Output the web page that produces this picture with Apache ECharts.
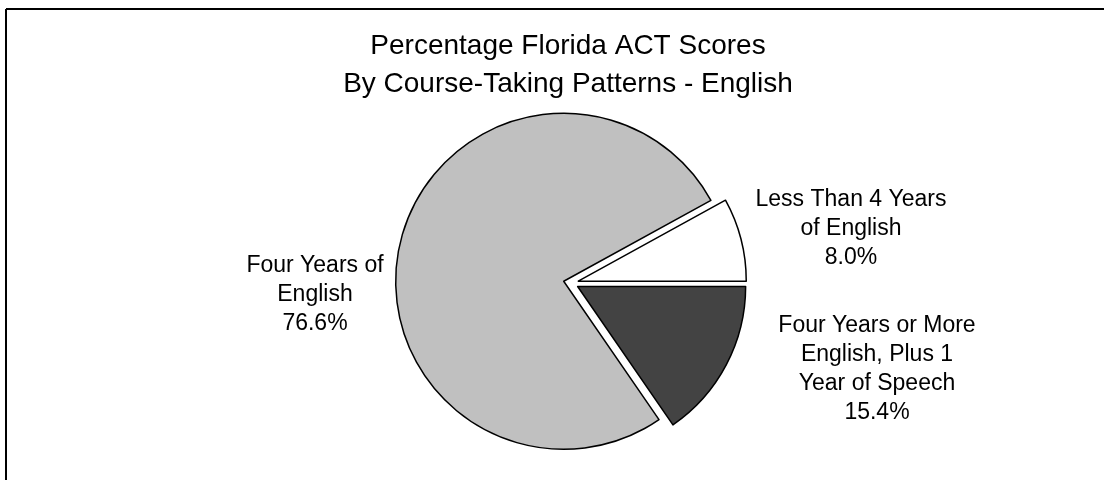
<!DOCTYPE html>
<html lang="en">
<head>
    <meta charset="UTF-8">
    <title>Percentage Florida ACT Scores - English</title>
    <script type="text/javascript" src="https://cdn.jsdelivr.net/npm/echarts@6/dist/echarts.min.js"></script>
    <style>
        body { margin: 0; background: #fff; }
    </style>
</head>
<body>
<div id="main" style="width: 1104px; height: 480px;"></div>
<script type="text/javascript">
    // 类别和数值
    var categories = ['Less Than 4 Years\nof English', 'Four Years of\nEnglish', 'Four Years or More\nEnglish, Plus 1\nYear of Speech'];
    var values = [8.0, 76.6, 15.4];
    var colors = ['#ffffff', '#c0c0c0', '#434343'];

    // where each data label sits (chart was hand laid out)
    var labelSpots = [[851, 229], [315, 295], [877, 369]];

    var font = "'Liberation Sans', Arial, sans-serif";

    var pieData = [];
    var labelTexts = [];
    for (var i = 0; i < categories.length; i++) {
        pieData.push({
            name: categories[i],
            value: values[i],
            selected: true,
            itemStyle: { color: colors[i] }
        });
        labelTexts.push({
            type: 'text',
            x: labelSpots[i][0],
            y: labelSpots[i][1],
            silent: true,
            style: {
                text: categories[i] + '\n' + values[i].toFixed(1) + '%',
                fontFamily: font,
                fontSize: 23,
                lineHeight: 29,
                align: 'center',
                verticalAlign: 'middle',
                fill: '#000'
            }
        });
    }

    var option = {
        animation: false,
        backgroundColor: '#fff',
        title: {
            text: 'Percentage Florida ACT Scores\nBy Course-Taking Patterns - English',
            left: 568,
            top: 27,
            padding: 0,
            textAlign: 'center',
            textStyle: {
                fontFamily: font,
                fontSize: 28,
                fontWeight: 'normal',
                lineHeight: 38,
                color: '#000'
            }
        },
        graphic: [
            { type: 'line', shape: { x1: 6, y1: 9, x2: 1104, y2: 9 }, style: { stroke: '#000', lineWidth: 2 } },
            { type: 'line', shape: { x1: 6, y1: 9, x2: 6, y2: 480 }, style: { stroke: '#000', lineWidth: 2 } }
        ].concat(labelTexts),
        series: [
            {
                type: 'pie',
                center: [571, 283],
                radius: 168,
                startAngle: 0,
                clockwise: false,
                selectedMode: 'multiple',
                selectedOffset: 7.5,
                itemStyle: {
                    borderColor: '#000',
                    borderWidth: 1.5
                },
                emphasis: { disabled: true },
                label: { show: false },
                labelLine: { show: false },
                data: pieData
            }
        ]
    };

    var myChart = echarts.init(document.getElementById('main'));
    myChart.setOption(option);
</script>
</body>
</html>
